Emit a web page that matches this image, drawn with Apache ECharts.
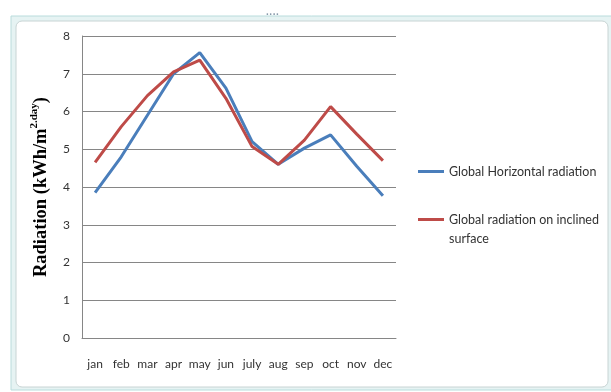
<!DOCTYPE html>
<html>
<head>
<meta charset="utf-8">
<script src="https://cdn.jsdelivr.net/npm/echarts@6/dist/echarts.min.js"></script>
<style>
  html, body { margin: 0; padding: 0; background: #ffffff; }
  #chart { width: 611px; height: 392px; }
</style>
</head>
<body>
<div id="chart"></div>
<script>
// Monthly mean daily radiation, kWh/m²·day
const months = ['jan', 'feb', 'mar', 'apr', 'may', 'jun', 'july', 'aug', 'sep', 'oct', 'nov', 'dec'];
const globalHorizontal = [3.85, 4.8, 5.9, 7.0, 7.56, 6.62, 5.2, 4.6, 5.03, 5.38, 4.55, 3.77];
const globalInclined = [4.65, 5.6, 6.42, 7.05, 7.36, 6.35, 5.07, 4.6, 5.24, 6.13, 5.4, 4.7];
const yTicks = [0, 1, 2, 3, 4, 5, 6, 7, 8];

const seriesNames = ['Global Horizontal radiation', 'Global radiation on inclined surface'];
const colors = ['#4a7ebb', '#be4b48'];

const chart = echarts.init(document.getElementById('chart'), null, { renderer: 'canvas' });

const labelFont = 'Lato, "Open Sans", sans-serif';
const serif = '"Liberation Serif", "DejaVu Serif", serif';

chart.setOption({
  animation: false,
  backgroundColor: '#ffffff',
  graphic: [
    // outer sheet frame
    { type: 'rect', shape: { x: 11, y: 16, width: 602, height: 374 },
      style: { fill: '#e6f3f3', stroke: '#b9dcdc', lineWidth: 1 }, z: -10 },
    { type: 'rect', shape: { x: 16, y: 21, width: 592, height: 366, r: 6 },
      style: { fill: '#ffffff', stroke: '#c8d4d4', lineWidth: 1 }, z: -9 },
    { type: 'text', left: 266, top: 10, style: { text: '····', fill: '#8899aa', font: 'bold 10px sans-serif' }, z: -8 }
  ],
  grid: { left: 82, right: 215, top: 36, bottom: 54, containLabel: false },
  legend: [
    {
      data: [seriesNames[0]],
      orient: 'vertical',
      left: 418, top: 165,
      padding: 0,
      itemWidth: 26, itemHeight: 3,
      icon: 'rect',
      textStyle: { fontFamily: labelFont, fontSize: 12.5, color: '#333333' }
    },
    {
      data: [seriesNames[1]],
      orient: 'vertical',
      left: 418, top: 191,
      padding: 0,
      itemWidth: 26, itemHeight: 3,
      icon: 'rect',
      formatter: () => '\nGlobal radiation on inclined\nsurface',
      textStyle: { fontFamily: labelFont, fontSize: 12.5, lineHeight: 19, color: '#333333' }
    }
  ],
  xAxis: {
    type: 'category',
    data: months,
    boundaryGap: true,
    axisLine: { lineStyle: { color: '#868686', width: 1 } },
    axisTick: { show: false },
    axisLabel: { color: '#333333', fontFamily: labelFont, fontSize: 12, margin: 20, interval: 0 }
  },
  yAxis: {
    type: 'value',
    min: yTicks[0],
    max: yTicks[yTicks.length - 1],
    interval: 1,
    name: '{m|Radiation (kWh/m}{s|2.day}{m|)}',
    nameLocation: 'middle',
    nameRotate: 90,
    nameGap: 31,
    nameTextStyle: {
      rich: {
        m: { fontFamily: serif, fontWeight: 'bold', fontSize: 18.5, color: '#000000', lineHeight: 22, verticalAlign: 'bottom' },
        s: { fontFamily: serif, fontWeight: 'bold', fontSize: 11, color: '#000000', lineHeight: 17, verticalAlign: 'top' }
      }
    },
    axisLine: { show: true, lineStyle: { color: '#868686', width: 1 } },
    axisTick: { show: false },
    axisLabel: { color: '#333333', fontFamily: labelFont, fontSize: 12, margin: 12 },
    splitLine: { lineStyle: { color: '#868686', width: 1 } }
  },
  series: [
    {
      name: seriesNames[0],
      type: 'line',
      data: globalHorizontal,
      showSymbol: false,
      symbol: 'none',
      lineStyle: { color: colors[0], width: 3 },
      itemStyle: { color: colors[0] },
      z: 2
    },
    {
      name: seriesNames[1],
      type: 'line',
      data: globalInclined,
      showSymbol: false,
      symbol: 'none',
      lineStyle: { color: colors[1], width: 3 },
      itemStyle: { color: colors[1] },
      z: 3
    }
  ]
});
</script>
</body>
</html>
